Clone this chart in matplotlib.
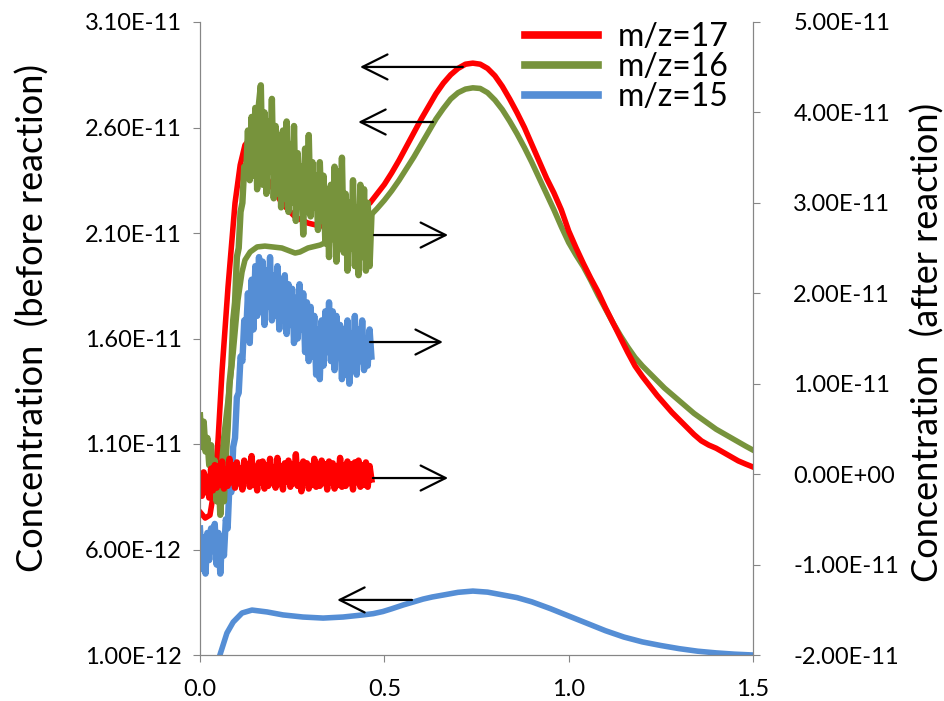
import numpy as np
import matplotlib
matplotlib.use("Agg")
import matplotlib.pyplot as plt
from matplotlib.lines import Line2D

plt.rcParams['font.family'] = ['Lato', 'DejaVu Sans']

RED = '#FF0000'
GREEN = '#77933C'
BLUE = '#558ED5'
GRAY = '#868686'

# before reaction (left axis), values in 1E-12
x_red_b = [0.000, 0.014, 0.027, 0.038, 0.049, 0.060, 0.076, 0.095, 0.109, 0.122,
           0.136, 0.155, 0.176, 0.222, 0.258, 0.293, 0.326, 0.366, 0.407, 0.461,
           0.48, 0.50, 0.52, 0.54, 0.56, 0.58, 0.60, 0.62, 0.64, 0.66,
           0.68, 0.70, 0.72, 0.74, 0.76, 0.78, 0.80, 0.82, 0.84, 0.86,
           0.88, 0.90, 0.92, 0.94, 0.96, 0.98, 1.00, 1.02, 1.04, 1.06,
           1.08, 1.10, 1.12, 1.14, 1.16, 1.18, 1.20, 1.22, 1.24, 1.26,
           1.28, 1.30, 1.32, 1.34, 1.36, 1.38, 1.40, 1.42, 1.44, 1.46,
           1.48, 1.50]
y_red_b = [7.78, 7.49, 7.63, 8.82, 11.19, 14.51, 18.44, 22.42, 24.22, 25.17,
           25.45, 25.03, 23.75, 22.42, 21.76, 21.47, 21.33, 21.38, 21.71, 22.42,
           22.85, 23.3, 23.85, 24.45, 25.1, 25.75, 26.4, 27.0, 27.6, 28.1,
           28.5, 28.8, 29.0, 29.05, 29.0, 28.8, 28.45, 27.95, 27.35, 26.7,
           26.0, 25.2, 24.4, 23.6, 22.9, 22.1, 21.1, 20.3, 19.55, 18.85,
           18.2, 17.45, 16.75, 16.05, 15.35, 14.7, 14.2, 13.75, 13.3, 12.9,
           12.5, 12.15, 11.8, 11.45, 11.15, 10.95, 10.8, 10.6, 10.4, 10.2,
           10.05, 9.91]

x_green_b = [0.000, 0.019, 0.035, 0.049, 0.062, 0.076, 0.090, 0.103, 0.114, 0.122,
             0.136, 0.155, 0.176, 0.222, 0.258, 0.271, 0.293, 0.326, 0.366, 0.407,
             0.469, 0.48, 0.50, 0.52, 0.54, 0.56, 0.58, 0.60, 0.62, 0.64,
             0.66, 0.68, 0.70, 0.72, 0.74, 0.76, 0.78, 0.80, 0.82, 0.84,
             0.86, 0.88, 0.90, 0.92, 0.94, 0.96, 0.98, 1.00, 1.02, 1.04,
             1.06, 1.08, 1.10, 1.12, 1.14, 1.16, 1.18, 1.20, 1.22, 1.24,
             1.26, 1.28, 1.30, 1.32, 1.34, 1.36, 1.38, 1.40, 1.42, 1.44,
             1.46, 1.48, 1.50]
y_green_b = [9.29, 8.72, 8.68, 9.29, 10.95, 13.08, 15.31, 17.82, 19.15, 19.72,
             20.10, 20.34, 20.38, 20.29, 20.05, 20.10, 20.29, 20.43, 20.76, 21.24,
             21.95, 22.15, 22.55, 23.0, 23.5, 24.05, 24.6, 25.2, 25.8, 26.4,
             26.9, 27.35, 27.65, 27.82, 27.88, 27.85, 27.65, 27.3, 26.85, 26.3,
             25.7, 25.05, 24.35, 23.6, 22.85, 22.1, 21.3, 20.55, 19.95, 19.4,
             18.75, 18.05, 17.4, 16.75, 16.15, 15.6, 15.1, 14.7, 14.35, 14.0,
             13.65, 13.35, 13.05, 12.75, 12.45, 12.2, 11.95, 11.7, 11.5, 11.3,
             11.1, 10.9, 10.71]

x_blue_b = [0.054, 0.073, 0.090, 0.114, 0.141, 0.182, 0.225, 0.279, 0.334, 0.388,
            0.442, 0.47, 0.496, 0.52, 0.551, 0.58, 0.605, 0.63, 0.659, 0.70,
            0.74, 0.78, 0.82, 0.86, 0.90, 0.95, 1.00, 1.05, 1.10, 1.15,
            1.20, 1.25, 1.30, 1.35, 1.40, 1.45, 1.50]
y_blue_b = [1.00, 2.04, 2.56, 2.99, 3.13, 3.04, 2.90, 2.80, 2.75, 2.80,
            2.90, 2.96, 3.06, 3.19, 3.37, 3.52, 3.65, 3.75, 3.84, 3.97,
            4.03, 3.98, 3.85, 3.72, 3.52, 3.2, 2.85, 2.5, 2.15, 1.85,
            1.62, 1.45, 1.3, 1.18, 1.1, 1.04, 1.00]

# after reaction (right axis), read every 0.005 from 0 to 0.465, values in 1E-12
red_a = [-0.8, -2.4, 0.2, -2.0, -0.3, -2.6, 0.6, -1.8, 1.0, -1.5,
         0.9, -1.2, 1.4, -1.6, 0.5, -1.3, 1.7, -0.9, 1.0, -1.5,
         1.3, -1.0, 0.6, -1.7, 1.5, -0.7, 1.1, -1.4, 2.0, -1.2,
         0.8, -1.8, 1.3, -0.9, 1.4, -1.6, 1.0, -1.3, 1.7, -1.0,
         0.7, -1.5, 1.8, -1.1, 0.9, -1.7, 1.2, -0.8, 1.5, -1.4,
         1.1, -1.0, 2.2, -1.3, 1.0, -1.9, 1.4, -0.9, 1.2, -1.6,
         0.9, -1.2, 1.7, -1.4, 1.0, -1.3, 1.5, -1.0, 1.1, -1.7,
         1.4, -0.9, 1.2, -1.6, 0.9, -1.2, 1.8, -1.4, 1.0, -1.3,
         1.4, -1.0, 1.1, -1.7, 1.3, -0.9, 1.5, -1.4, 1.0, -1.2,
         1.3, -1.4, 0.9, -0.6]
green_a = [6.5, 3.0, 5.8, 2.5, 4.0, 1.0, 3.2, -1.5, 1.5, -3.0,
           0.5, -4.5, -1.0, -3.0, 2.0, 5.0, 10.0, 12.0, 17.0, 19.0,
           24.0, 25.0, 29.0, 30.0, 34.0, 33.0, 38.0, 32.5, 39.5, 33.0,
           40.5, 31.5, 41.0, 43.0, 32.0, 40.0, 31.0, 39.0, 33.5, 41.5,
           30.5, 38.5, 31.0, 37.5, 29.5, 38.0, 30.5, 39.0, 29.0, 36.5,
           30.0, 38.5, 28.0, 35.5, 30.5, 34.0, 26.5, 36.0, 29.0, 37.5,
           28.5, 34.5, 29.5, 33.0, 27.0, 34.5, 28.0, 33.0, 25.5, 31.5,
           24.0, 32.0, 26.0, 34.0, 23.5, 33.5, 25.0, 35.0, 24.5, 31.0,
           22.5, 30.0, 25.0, 32.5, 23.0, 29.5, 22.0, 32.0, 24.0, 31.5,
           22.5, 30.0, 23.0, 28.5]
blue_a = [-6.0, -10.5, -7.0, -11.0, -6.5, -9.5, -6.0, -8.5, -5.5, -10.0,
          -6.5, -11.0, -7.0, -9.0, -5.0, -6.0, -1.0, -2.0, 3.0, 4.0,
          8.5, 9.0, 13.0, 12.5, 17.0, 15.5, 20.0, 14.5, 21.5, 16.0,
          23.0, 17.5, 24.0, 18.0, 23.5, 16.5, 22.5, 18.5, 24.0, 17.0,
          22.0, 17.5, 23.0, 16.0, 21.5, 17.0, 22.0, 15.5, 21.0, 16.5,
          20.5, 14.5, 19.5, 15.0, 21.0, 16.0, 20.0, 13.5, 19.0, 12.5,
          18.5, 13.0, 17.5, 11.0, 16.0, 10.5, 17.0, 12.0, 18.0, 13.5,
          19.0, 12.5, 18.0, 11.5, 17.5, 13.0, 16.5, 10.5, 16.0, 11.0,
          17.0, 10.0, 15.5, 12.0, 17.5, 11.0, 16.0, 12.5, 17.0, 11.5,
          15.0, 12.0, 16.0, 13.0]
x_after = np.linspace(0, 0.465, len(red_a))

left_ticks = [1e-12, 6e-12, 1.1e-11, 1.6e-11, 2.1e-11, 2.6e-11, 3.1e-11]
right_ticks = [-2e-11, -1e-11, 0, 1e-11, 2e-11, 3e-11, 4e-11, 5e-11]
x_ticks = [0.0, 0.5, 1.0, 1.5]
labels = ['m/z=17', 'm/z=16', 'm/z=15']

# arrows: (tail x, tip x, y in 1E-12)
arrows_left = [(0.713, 0.434, 28.87), (0.632, 0.429, 26.26), (0.575, 0.372, 3.61)]
arrows_right = [(0.472, 0.673, 26.44), (0.461, 0.659, 14.61), (0.469, 0.673, -0.43)]

fig = plt.figure(figsize=(9.45, 7.01), dpi=100)
ax = fig.add_axes([200/945, 1-655/701, 553/945, 633/701])
ax2 = ax.twinx()

sc = 1e-12
lw = 4
ax.plot(x_blue_b, np.array(y_blue_b)*sc, color=BLUE, lw=lw)
ax.plot(x_green_b, np.array(y_green_b)*sc, color=GREEN, lw=lw)
ax.plot(x_red_b, np.array(y_red_b)*sc, color=RED, lw=lw)

# noisy traces drawn a little heavier so they read as a solid band
ax2.plot(x_after, np.array(blue_a)*sc, color=BLUE, lw=4.6)
ax2.plot(x_after, np.array(green_a)*sc, color=GREEN, lw=4.6)
ax2.plot(x_after, np.array(red_a)*sc, color=RED, lw=4.6)

ax.set_xlim(0, 1.5)
ax.set_ylim(1e-12, 3.1e-11)
ax2.set_ylim(-2e-11, 5e-11)
ax.set_xticks(x_ticks)
ax.set_xticklabels(['%.1f' % t for t in x_ticks])
ax.set_yticks(left_ticks)
ax.set_yticklabels(['%.2E' % t for t in left_ticks])
ax2.set_yticks(right_ticks)
ax2.set_yticklabels(['%.2E' % t for t in right_ticks])

for a in (ax, ax2):
    a.spines['top'].set_visible(False)
    for s in ('left', 'right', 'bottom'):
        a.spines[s].set_color(GRAY)
ax.tick_params(axis='y', direction='out', length=5, color=GRAY, labelsize=17, pad=8)
ax.tick_params(axis='x', direction='out', length=5, color=GRAY, labelsize=17, pad=12)
ax2.tick_params(axis='y', direction='out', length=5, color=GRAY, labelsize=17, pad=24)

aprops = dict(arrowstyle='->,head_length=0.9,head_width=0.45', mutation_scale=20,
              lw=1.6, color='black', shrinkA=0, shrinkB=0)
for tail, tip, y in arrows_left:
    ax.annotate('', xy=(tip, y*sc), xytext=(tail, y*sc), arrowprops=aprops)
for tail, tip, y in arrows_right:
    ax2.annotate('', xy=(tip, y*sc), xytext=(tail, y*sc), arrowprops=aprops)

handles = [Line2D([], [], color=c, lw=5.5) for c in (RED, GREEN, BLUE)]
ax2.legend(handles, labels, loc='upper left', bbox_to_anchor=(525/945, 0.968),
           bbox_transform=fig.transFigure, frameon=False, fontsize=23,
           handlelength=2.3, handletextpad=0.6, labelspacing=0.0,
           borderpad=0, borderaxespad=0)

fig.text(33/945, 1-318/701, 'Concentration  (before reaction)', rotation=90,
         ha='center', va='center', fontsize=26)
fig.text(928/945, 1-342/701, 'Concentration  (after reaction)', rotation=90,
         ha='center', va='center', fontsize=26)

fig.savefig('out.png', dpi=100)
